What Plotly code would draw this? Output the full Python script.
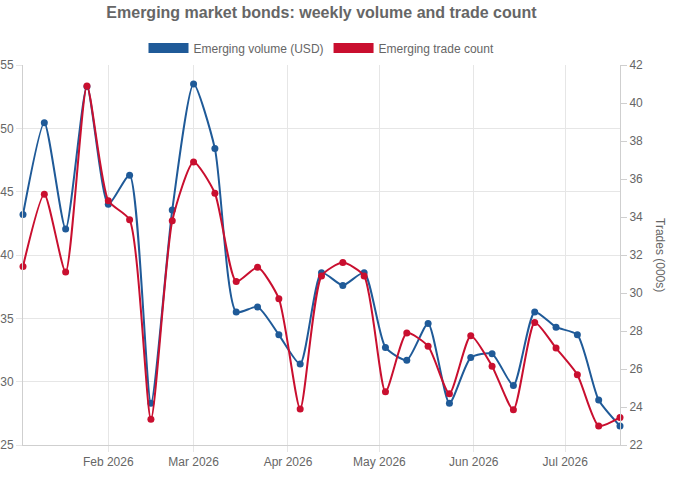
import plotly.graph_objects as go
import pandas as pd

dates = pd.date_range("2026-01-04", periods=29, freq="7D").strftime("%Y-%m-%d").tolist()

volume = [43.2, 50.45, 42.05, 53.3, 44.0, 46.3, 28.3, 43.55, 53.5, 48.4,
          35.5, 35.9, 33.7, 31.4, 38.6, 37.6, 38.6, 32.7, 31.7, 34.6,
          28.3, 31.9, 32.2, 29.7, 35.5, 34.3, 33.7, 28.55, 26.5]

trades = [31.4, 35.2, 31.1, 40.9, 34.85, 33.85, 23.35, 33.8, 36.9, 35.25,
          30.6, 31.35, 29.7, 23.9, 30.9, 31.6, 30.9, 24.8, 27.9, 27.2,
          24.7, 27.75, 26.15, 23.85, 28.45, 27.1, 25.7, 23.0, 23.45]

BLUE = "#1f5a98"
RED = "#c90f2f"
GRID = "#e6e6e6"
TXT = "#666666"
FONT = "Liberation Sans, Arial, sans-serif"

fig = go.Figure()

fig.add_trace(go.Scatter(
    x=dates, y=volume, name="Emerging volume (USD)", mode="lines+markers",
    line=dict(color=BLUE, width=2, shape="spline", smoothing=0.6),
    marker=dict(color=BLUE, size=7), showlegend=False, yaxis="y", cliponaxis=False))
fig.add_trace(go.Scatter(
    x=dates, y=trades, name="Emerging trade count", mode="lines+markers",
    line=dict(color=RED, width=2, shape="spline", smoothing=0.6),
    marker=dict(color=RED, size=7), showlegend=False, yaxis="y2", cliponaxis=False))

# legend-only entries drawn as boxes
fig.add_trace(go.Scatter(x=[None], y=[None], mode="lines", name="Emerging volume (USD)",
                         line=dict(color=BLUE, width=12), showlegend=True))
fig.add_trace(go.Scatter(x=[None], y=[None], mode="lines", name="Emerging trade count",
                         line=dict(color=RED, width=12), showlegend=True))

fig.update_layout(
    width=675, height=480,
    margin=dict(l=23, r=55, t=65, b=35, autoexpand=False),
    paper_bgcolor="white", plot_bgcolor="white",
    font=dict(family=FONT, size=12, color=TXT),
    title=dict(text="<b>Emerging market bonds: weekly volume and trade count</b>",
               x=0.5, xref="paper", xanchor="center", y=1 - 12 / 480, yref="container",
               yanchor="middle", font=dict(size=16, color=TXT, family=FONT)),
    legend=dict(orientation="h", x=0.5, xanchor="center", y=1.045, yanchor="middle",
                font=dict(size=12, color=TXT), itemwidth=40, bgcolor="rgba(0,0,0,0)"),
    xaxis=dict(type="date", range=[dates[0], dates[-1]], automargin=False,
               tick0="2026-02-01", dtick="M1", tickformat="%b %Y",
               showgrid=True, gridcolor=GRID, gridwidth=1,
               showline=True, linecolor="#cfcfcf", linewidth=1,
               ticks="outside", ticklen=6, tickcolor=GRID,
               tickfont=dict(size=12, color=TXT), zeroline=False),
    yaxis=dict(range=[25, 55], dtick=5, tick0=25, automargin=False,
               showgrid=True, gridcolor=GRID, gridwidth=1,
               showline=True, linecolor="#cfcfcf", linewidth=1,
               ticks="outside", ticklen=6, tickcolor=GRID,
               tickfont=dict(size=12, color=TXT), zeroline=False),
    yaxis2=dict(range=[22, 42], dtick=2, tick0=22, overlaying="y", side="right",
                automargin=False,
                showgrid=False, showline=True, linecolor="#cfcfcf", linewidth=1,
                ticks="outside", ticklen=6, tickcolor="#cfcfcf",
                tickfont=dict(size=12, color=TXT), zeroline=False),
    annotations=[dict(text="Trades (000s)", xref="paper", yref="paper",
                      x=1.0, xshift=40, y=0.5, textangle=90, showarrow=False,
                      xanchor="center", yanchor="middle",
                      font=dict(size=12, color=TXT, family=FONT))],
)

fig.write_html("out.html")
